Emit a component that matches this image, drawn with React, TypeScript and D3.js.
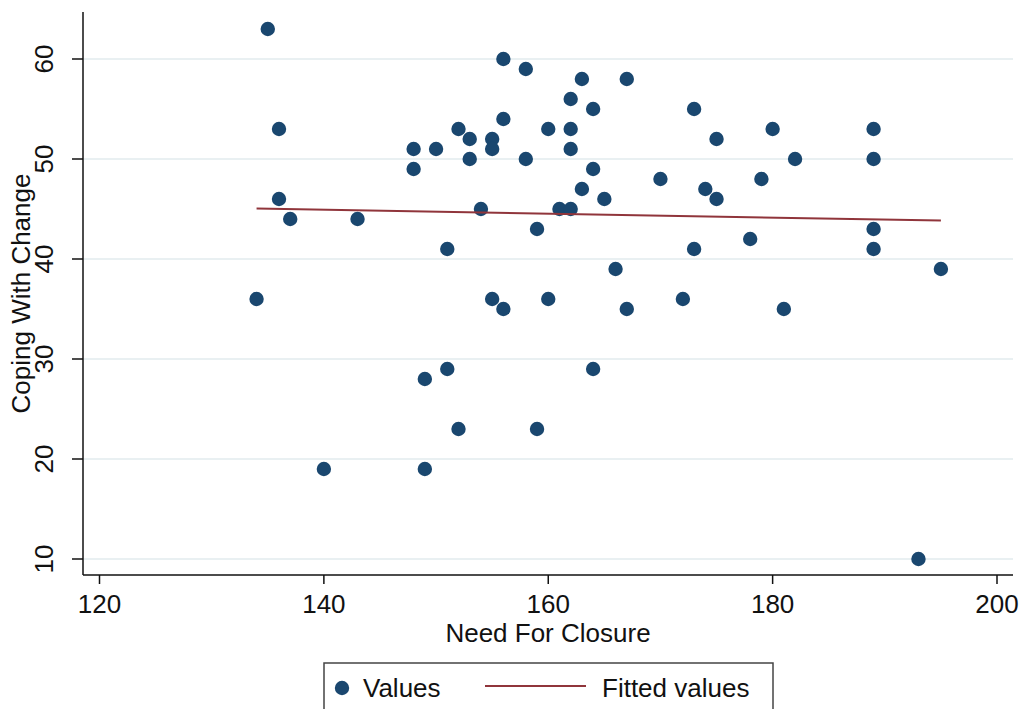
import React from "react";
import * as d3 from "d3";

// Need For Closure (x) and Coping With Change (y), one entry per respondent
const needForClosure = [
  135, 136, 136, 137, 134, 140, 143, 148, 148, 150, 152, 153, 153, 155, 155, 156,
  156, 158, 158, 154, 151, 155, 156, 159, 160, 160, 161, 162, 162, 162, 162, 163,
  163, 164, 164, 165, 166, 167, 167, 164, 159, 152, 151, 149, 149, 170, 173, 174,
  175, 175, 173, 172, 178, 179, 180, 181, 182, 189, 189, 189, 189, 195, 193,
];
const copingWithChange = [
  63, 53, 46, 44, 36, 19, 44, 51, 49, 51, 53, 52, 50, 52, 51, 54,
  60, 59, 50, 45, 41, 36, 35, 43, 36, 53, 45, 45, 51, 53, 56, 58,
  47, 55, 49, 46, 39, 58, 35, 29, 23, 23, 29, 28, 19, 48, 55, 47,
  52, 46, 41, 36, 42, 48, 53, 35, 50, 53, 50, 43, 41, 39, 10,
];

const xTicks = [120, 140, 160, 180, 200];
const yTicks = [10, 20, 30, 40, 50, 60];

const NAVY = "#1a476f";
const MAROON = "#90353b";
const FONT = "'Liberation Sans', Arial, Helvetica, sans-serif";
const FS = 26;

export default function App() {
  const W = 1023;
  const H = 709;

  const x = d3.scaleLinear().domain([120, 200]).range([99.5, 997]);
  const y = d3.scaleLinear().domain([10, 60]).range([559, 59]);

  const axisLeft = 83;
  const axisRight = 1013;
  const axisTop = 12;
  const axisBottom = 575;

  // ordinary least squares fit of y on x
  const pts = needForClosure.map((v, i) => [v, copingWithChange[i]] as [number, number]);
  const mx = d3.mean(pts, (p) => p[0]) as number;
  const my = d3.mean(pts, (p) => p[1]) as number;
  const sxy = d3.sum(pts, (p) => (p[0] - mx) * (p[1] - my));
  const sxx = d3.sum(pts, (p) => (p[0] - mx) ** 2);
  const slope = sxy / sxx;
  const intercept = my - slope * mx;
  const [xmin, xmax] = d3.extent(needForClosure) as [number, number];
  const fitted: [number, number][] = [
    [xmin, intercept + slope * xmin],
    [xmax, intercept + slope * xmax],
  ];
  const line = d3
    .line<[number, number]>()
    .x((d) => x(d[0]))
    .y((d) => y(d[1]));

  return (
    <svg
      width={W}
      height={H}
      style={{ position: "absolute", left: 0, top: 0, background: "#fff" }}
      fontFamily={FONT}
    >
      {/* horizontal gridlines */}
      {yTicks.map((t) => (
        <line
          key={"g" + t}
          x1={axisLeft}
          x2={axisRight}
          y1={y(t)}
          y2={y(t)}
          stroke="#e9f0f2"
          strokeWidth={2}
        />
      ))}

      {/* y axis */}
      <line x1={axisLeft} x2={axisLeft} y1={axisTop} y2={axisBottom} stroke="#111" strokeWidth={1.5} />
      {yTicks.map((t) => (
        <g key={"y" + t}>
          <line x1={axisLeft - 11} x2={axisLeft} y1={y(t)} y2={y(t)} stroke="#111" strokeWidth={1.5} />
          <text
            transform={`translate(53,${y(t)}) rotate(-90)`}
            textAnchor="middle"
            fontSize={FS}
            fill="#111"
          >
            {t}
          </text>
        </g>
      ))}
      <text
        transform={`translate(30,${(axisTop + axisBottom) / 2}) rotate(-90)`}
        textAnchor="middle"
        fontSize={FS}
        fill="#111"
      >
        Coping With Change
      </text>

      {/* x axis */}
      <line x1={axisLeft} x2={axisRight} y1={axisBottom} y2={axisBottom} stroke="#111" strokeWidth={1.5} />
      {xTicks.map((t) => (
        <g key={"x" + t}>
          <line x1={x(t)} x2={x(t)} y1={axisBottom} y2={axisBottom + 9} stroke="#111" strokeWidth={1.5} />
          <text x={x(t)} y={613} textAnchor="middle" fontSize={FS} fill="#111">
            {t}
          </text>
        </g>
      ))}
      <text x={548} y={642} textAnchor="middle" fontSize={FS} fill="#111">
        Need For Closure
      </text>

      {/* scatter points */}
      {pts.map((p, i) => (
        <circle key={"p" + i} cx={x(p[0])} cy={y(p[1])} r={7.2} fill={NAVY} />
      ))}

      {/* fitted regression line */}
      <path d={line(fitted) as string} fill="none" stroke={MAROON} strokeWidth={2} />

      {/* legend */}
      <rect x={324} y={663} width={449} height={60} fill="#fff" stroke="#444" strokeWidth={1.5} />
      <circle cx={342} cy={688} r={7.2} fill={NAVY} />
      <text x={363} y={697} fontSize={FS} fill="#111">
        Values
      </text>
      <line x1={485} x2={586} y1={686} y2={686} stroke={MAROON} strokeWidth={2} />
      <text x={602} y={697} fontSize={FS} fill="#111">
        Fitted values
      </text>
    </svg>
  );
}
